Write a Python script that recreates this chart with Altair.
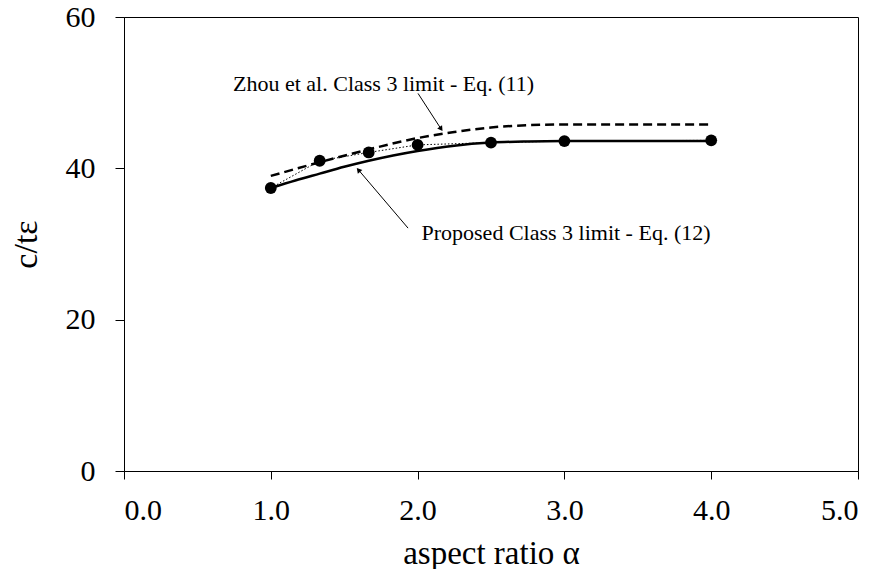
import altair as alt
import pandas as pd

# Data
alpha_pts = [1.0, 1.333, 1.667, 2.0, 2.5, 3.0, 4.0]
ct_pts = [37.4, 41.0, 42.1, 43.1, 43.4, 43.6, 43.7]

alpha_zhou = [1.0, 1.333, 1.667, 2.0, 2.25, 2.5, 2.75, 3.0, 3.5, 4.0]
ct_zhou = [39.0, 40.8, 42.5, 44.0, 44.8, 45.4, 45.7, 45.8, 45.8, 45.8]

alpha_prop = [1.0, 1.167, 1.333, 1.5, 1.667, 1.833, 2.0, 2.25, 2.5, 2.75, 3.0, 3.5, 4.0]
ct_prop = [37.4, 38.4, 39.3, 40.2, 41.0, 41.7, 42.3, 43.0, 43.4, 43.55, 43.6, 43.6, 43.6]

ann_text = ["Zhou et al. Class 3 limit - Eq. (11)", "Proposed Class 3 limit - Eq. (12)"]
ann_x = [1.768, 3.011]
ann_y = [51.2, 31.4]
arrow_x0 = [2.003, 1.935]
arrow_y0 = [49.9, 32.1]
arrow_x1 = [2.16, 1.597]
arrow_y1 = [45.2, 39.8]
arrow_angle = [145.6, 319.8]

FONT = "Liberation Serif"

pts = pd.DataFrame({"a": alpha_pts, "c": ct_pts})
zhou = pd.DataFrame({"a": alpha_zhou, "c": ct_zhou})
prop = pd.DataFrame({"a": alpha_prop, "c": ct_prop})
ann = pd.DataFrame({"t": ann_text, "x": ann_x, "y": ann_y})
arr = pd.DataFrame({"x0": arrow_x0, "y0": arrow_y0, "x1": arrow_x1, "y1": arrow_y1,
                    "ang": arrow_angle})

xs = alt.Scale(domain=[0, 5], nice=False)
ys = alt.Scale(domain=[0, 60], nice=False)

xax = alt.Axis(values=[0, 1, 2, 3, 4, 5], format=".1f", grid=False, title="aspect ratio α",
               domainColor="black", tickColor="black", tickSize=8, labelPadding=16,
               labelFont=FONT, labelFontSize=30, labelColor="black",
               titleFont=FONT, titleFontSize=33, titleFontWeight="normal", titleColor="black",
               titlePadding=12)
yax = alt.Axis(values=[0, 20, 40, 60], grid=False, title="c/tε",
               domainColor="black", tickColor="black", tickSize=9, labelPadding=20,
               labelFont=FONT, labelFontSize=30, labelColor="black",
               titleFont=FONT, titleFontSize=34, titleFontWeight="normal", titleColor="black",
               titlePadding=22)

base_x = alt.X("a:Q", scale=xs, axis=xax)
base_y = alt.Y("c:Q", scale=ys, axis=yax)

zhou_line = alt.Chart(zhou).mark_line(
    color="black", strokeWidth=2.5, strokeDash=[9, 5], interpolate="monotone"
).encode(x=base_x, y=base_y)

prop_line = alt.Chart(prop).mark_line(
    color="black", strokeWidth=2.5, interpolate="monotone"
).encode(x=base_x, y=base_y)

dotted = alt.Chart(pts).mark_line(
    color="black", strokeWidth=1, strokeDash=[1.5, 2]
).encode(x=base_x, y=base_y)

points = alt.Chart(pts).mark_circle(color="black", size=140, opacity=1).encode(x=base_x, y=base_y)

rules = alt.Chart(arr).mark_rule(color="black", strokeWidth=1).encode(
    x=alt.X("x0:Q", scale=xs), y=alt.Y("y0:Q", scale=ys),
    x2="x1:Q", y2="y1:Q"
)

heads = alt.Chart(arr).mark_point(
    shape="triangle-up", filled=True, color="black", size=35, opacity=1
).encode(
    x=alt.X("x1:Q", scale=xs), y=alt.Y("y1:Q", scale=ys),
    angle=alt.Angle("ang:Q", scale=None)
)

texts = alt.Chart(ann).mark_text(
    font=FONT, fontSize=22, color="black", align="center", baseline="middle"
).encode(x=alt.X("x:Q", scale=xs), y=alt.Y("y:Q", scale=ys), text="t:N")

chart = alt.layer(zhou_line, prop_line, dotted, points, rules, heads, texts).properties(
    width=734, height=454,
    autosize=alt.AutoSizeParams(type="none"),
    padding={"left": 116, "top": 9, "right": 10, "bottom": 98},
    background="white"
).configure_view(stroke="black", strokeWidth=1)

chart.save("out.html", embed_options={"renderer": "svg", "actions": False})
